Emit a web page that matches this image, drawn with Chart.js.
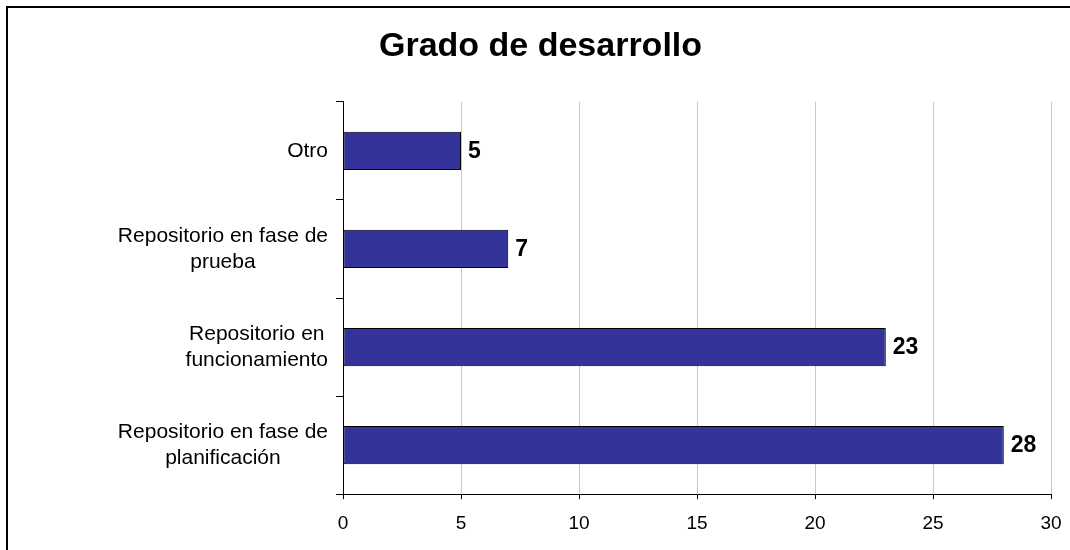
<!DOCTYPE html>
<html><head><meta charset="utf-8">
<script src="https://cdn.jsdelivr.net/npm/chart.js@4"></script>
<style>
html,body{margin:0;padding:0;background:#fff;overflow:hidden;width:1070px;height:550px}
#frame{position:absolute;left:6px;top:6px;width:2000px;height:2000px;border-left:2px solid #000;border-top:2px solid #000;box-sizing:border-box}
canvas{position:absolute;left:0;top:0}
</style></head><body>
<div id="frame"></div>
<canvas id="c" width="1070" height="550"></canvas>
<script>
const titleText = "Grado de desarrollo";
const categories = [
  ["Otro"],
  ["Repositorio en fase de", "prueba"],
  ["Repositorio en", "funcionamiento"],
  ["Repositorio en fase de", "planificación"]
];
const values = [5, 7, 23, 28];
const xTicks = [0, 5, 10, 15, 20, 25, 30];

const FONT = '"Liberation Sans", Arial, sans-serif';

const labelPlugin = {
  id: 'labelPlugin',
  afterDraw(chart) {
    const ctx = chart.ctx, ys = chart.scales.y, area = chart.chartArea;
    ctx.save();
    ctx.fillStyle = '#000';
    ctx.font = '21px ' + FONT;
    ctx.textAlign = 'center';
    ctx.textBaseline = 'middle';
    const lh = 26;
    chart.data.labels.forEach((lab, i) => {
      const lines = Array.isArray(lab) ? lab : [lab];
      const w = Math.max(...lines.map(l => ctx.measureText(l).width));
      const cx = area.left - 15 - w / 2;
      const cy = ys.getPixelForTick(i);
      lines.forEach((l, j) => ctx.fillText(l, cx, cy + (j - (lines.length - 1) / 2) * lh));
    });
    ctx.font = 'bold 23px ' + FONT;
    ctx.textAlign = 'left';
    const meta = chart.getDatasetMeta(0);
    meta.data.forEach((bar, i) => {
      ctx.fillText(String(chart.data.datasets[0].data[i]), bar.x + 7, bar.y + 1);
    });
    ctx.restore();
  }
};

new Chart(document.getElementById('c'), {
  type: 'bar',
  data: {
    labels: categories,
    datasets: [{
      data: values,
      backgroundColor: '#333399',
      borderColor: '#000000',
      borderWidth: 1,
      borderSkipped: false,
      barPercentage: 0.39,
      categoryPercentage: 1
    }]
  },
  options: {
    indexAxis: 'y',
    responsive: false,
    animation: false,
    devicePixelRatio: 1,
    layout: { padding: { left: 30, right: 19, top: 0, bottom: 2 } },
    plugins: {
      legend: { display: false },
      tooltip: { enabled: false },
      title: {
        display: true,
        text: titleText,
        color: '#000',
        font: { family: FONT, size: 34, weight: 'bold' },
        padding: { top: 26, bottom: 35 }
      }
    },
    scales: {
      x: {
        min: xTicks[0],
        max: xTicks[xTicks.length - 1],
        afterFit(s) { s.paddingLeft = 0; s.paddingRight = 0; },
        ticks: {
          stepSize: xTicks[1] - xTicks[0],
          color: '#000',
          font: { family: FONT, size: 19 },
          padding: 13
        },
        grid: { color: '#c8c8c8', tickColor: '#000', tickLength: 5, drawOnChartArea: true },
        border: { display: true, color: '#000', width: 1 }
      },
      y: {
        afterFit(s) { s.width = 313; },
        ticks: { display: false },
        grid: { drawOnChartArea: false, drawTicks: true, tickLength: 7, tickColor: '#000', offset: true },
        border: { display: true, color: '#000', width: 1 }
      }
    }
  },
  plugins: [labelPlugin]
});
</script>
</body></html>
